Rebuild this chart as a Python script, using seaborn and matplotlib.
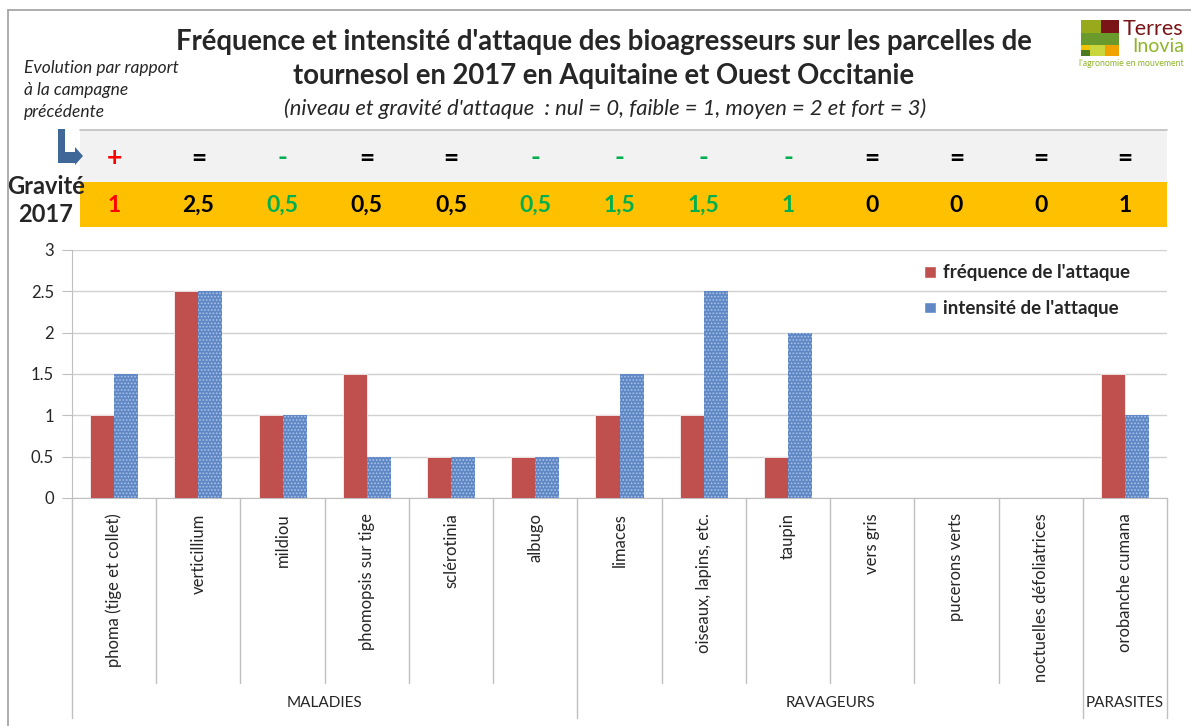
import pandas as pd
import matplotlib.pyplot as plt
import matplotlib.patches as mpatches
from matplotlib.transforms import blended_transform_factory
import seaborn as sns

# Données
bioagresseurs = ["phoma (tige et collet)", "verticillium", "mildiou", "phomopsis sur tige",
                 "sclérotinia", "albugo", "limaces", "oiseaux, lapins, etc.", "taupin",
                 "vers gris", "pucerons verts", "noctuelles défoliatrices", "orobanche cumana"]
frequence = [1, 2.5, 1, 1.5, 0.5, 0.5, 1, 1, 0.5, 0, 0, 0, 1.5]
intensite = [1.5, 2.5, 1, 0.5, 0.5, 0.5, 1.5, 2.5, 2, 0, 0, 0, 1]
evolution = ["+", "=", "-", "=", "=", "-", "-", "-", "-", "=", "=", "=", "="]
gravite = ["1", "2,5", "0,5", "0,5", "0,5", "0,5", "1,5", "1,5", "1", "0", "0", "0", "1"]
groupes = ["MALADIES", "RAVAGEURS", "PARASITES"]
taille_groupes = [6, 6, 1]

couleur_signe = {"+": "#ff0000", "=": "#000000", "-": "#00b050"}
couleur_gravite = ["#ff0000", "#000000", "#00b050", "#000000", "#000000", "#00b050", "#00b050",
                   "#00b050", "#00b050", "#000000", "#000000", "#000000", "#000000"]

W, H = 1191, 726


def px(x, y):
    # pixels -> fraction de figure
    return x / W, 1 - y / H


df = pd.DataFrame({
    "bioagresseur": bioagresseurs * 2,
    "valeur": frequence + intensite,
    "serie": ["fréquence de l'attaque"] * len(bioagresseurs) + ["intensité de l'attaque"] * len(bioagresseurs),
})

sns.set_style("white")
plt.rcParams["font.family"] = ["Lato", "DejaVu Sans"]
plt.rcParams["hatch.linewidth"] = 0.8

fig = plt.figure(figsize=(W / 100, H / 100), dpi=100)
ax = fig.add_axes([72 / W, 1 - 498 / H, (1167 - 72) / W, (498 - 250) / H])

sns.barplot(data=df, x="bioagresseur", y="valeur", hue="serie", saturation=1,
            palette=["#c0504d", "#5f87c4"], width=0.57, gap=0, ax=ax, zorder=3)

for p in ax.containers[0]:
    p.set_edgecolor("white")
    p.set_linewidth(0.5)
for p in ax.containers[1]:
    p.set_hatch(".....")
    p.set_edgecolor("#a9c3ec")
    p.set_linewidth(0)

ax.set_xlim(-0.5, 12.5)
ax.set_ylim(0, 3)
ax.set_yticks([0, 0.5, 1, 1.5, 2, 2.5, 3])
ax.set_yticklabels(["0", "0.5", "1", "1.5", "2", "2.5", "3"], fontsize=12)
ax.grid(axis="y", color="#d0d0d0", lw=1, zorder=0)
ax.set_axisbelow(True)
for s in ["top", "right"]:
    ax.spines[s].set_visible(False)
for s in ["left", "bottom"]:
    ax.spines[s].set_color("#bfbfbf")
ax.tick_params(axis="y", length=7, color="#bfbfbf", left=True, pad=6)
ax.set_xticks(range(len(bioagresseurs)))
ax.set_xticklabels(bioagresseurs, rotation=90, fontsize=12)
ax.tick_params(axis="x", length=0, pad=11)
ax.set_xlabel("")
ax.set_ylabel("")

leg = ax.legend(loc="upper left", bbox_to_anchor=(0.763, 1.01), frameon=False,
                handlelength=0.6, handleheight=0.6, handletextpad=0.4, labelspacing=1.0,
                prop={"weight": "bold", "size": 13.5})

# séparateurs de catégories et de groupes sous l'axe
tr = blended_transform_factory(ax.transData, ax.transAxes)
bornes_groupes = [-0.5]
for n in taille_groupes:
    bornes_groupes.append(bornes_groupes[-1] + n)
for i in range(len(bioagresseurs) + 1):
    b = i - 0.5
    bas = -0.887 if b in bornes_groupes else -0.746
    ax.plot([b, b], [0, bas], transform=tr, color="#bfbfbf", lw=1, clip_on=False)
for g, a, b in zip(groupes, bornes_groupes[:-1], bornes_groupes[1:]):
    ax.text((a + b) / 2, -0.827, g, transform=tr, ha="center", va="center", fontsize=11)

# tableau du haut (évolution et gravité)
trf = blended_transform_factory(ax.transData, fig.transFigure)
x0, _ = px(80, 0)
x1, _ = px(1167, 0)
fig.add_artist(mpatches.Rectangle(px(80, 182), x1 - x0, 52 / H, transform=fig.transFigure,
                                  facecolor="#f2f2f2", edgecolor="none", zorder=0))
fig.add_artist(mpatches.Rectangle(px(80, 227), x1 - x0, 45 / H, transform=fig.transFigure,
                                  facecolor="#ffc000", edgecolor="none", zorder=0))
fig.add_artist(plt.Line2D([x0, x1], [1 - 130 / H] * 2, transform=fig.transFigure,
                          color="#bfbfbf", lw=1.2))
for i, (s, g, c) in enumerate(zip(evolution, gravite, couleur_gravite)):
    fig.text(i, 1 - 158 / H, s, transform=trf, ha="center", va="center",
             fontsize=19, fontweight="bold", color=couleur_signe[s], zorder=5)
    fig.text(i, 1 - 205 / H, g, transform=trf, ha="center", va="center",
             fontsize=16.5, fontweight="bold", color=c, zorder=5)

fig.text(*px(46, 187), "Gravité", ha="center", va="center", fontsize=17, fontweight="bold")
fig.text(*px(46, 215), "2017", ha="center", va="center", fontsize=17, fontweight="bold")

# flèche bleue en L
bleu = "#3f6797"
fig.add_artist(mpatches.Polygon([px(58, 129), px(65, 129), px(65, 152), px(75, 152), px(75, 147),
                                 px(83, 156), px(75, 165), px(75, 163), px(58, 163)],
                                closed=True, transform=fig.transFigure, facecolor=bleu, edgecolor="none"))

# titres
fig.text(*px(604, 42), "Fréquence et intensité d'attaque des bioagresseurs sur les parcelles de",
         ha="center", va="center", fontsize=19.8, fontweight="bold")
fig.text(*px(604, 76), "tournesol en 2017 en Aquitaine et Ouest Occitanie",
         ha="center", va="center", fontsize=19.8, fontweight="bold")
fig.text(*px(605, 109), "(niveau et gravité d'attaque  : nul = 0, faible = 1, moyen = 2 et fort = 3)",
         ha="center", va="center", fontsize=15.8, style="italic")
fig.text(*px(24, 68), "Evolution par rapport", ha="left", va="center", fontsize=12.5, style="italic")
fig.text(*px(24, 90), "à la campagne", ha="left", va="center", fontsize=12.5, style="italic")
fig.text(*px(24, 112), "précédente", ha="left", va="center", fontsize=12.5, style="italic")

# logo Terres Inovia (simplifié)
for (xa, ya, xb, yb, col) in [(1081, 20, 1101, 33, "#99a91c"), (1101, 20, 1119, 33, "#7b1416"),
                              (1081, 33, 1119, 45, "#6b9a2c"), (1081, 45, 1090, 50, "#f2c400"),
                              (1081, 50, 1090, 56, "#4d7a1e"), (1090, 45, 1105, 56, "#c9d63e"),
                              (1105, 45, 1119, 56, "#f0a200")]:
    fig.add_artist(mpatches.Rectangle(px(xa, yb), (xb - xa) / W, (yb - ya) / H,
                                      transform=fig.transFigure, facecolor=col, edgecolor="none"))
fig.text(*px(1123, 29), "Terres", ha="left", va="center", fontsize=15.5, color="#7b1416")
fig.text(*px(1132, 47), "Inovia", ha="left", va="center", fontsize=14, color="#8db528")
fig.text(*px(1079, 63), "l'agronomie en mouvement", ha="left", va="center", fontsize=6.3, color="#8db528")

# cadre
fig.add_artist(plt.Line2D([px(8, 0)[0], 1], [1 - 10 / H] * 2, transform=fig.transFigure, color="#a0a0a0", lw=1.2))
fig.add_artist(plt.Line2D([px(8, 0)[0]] * 2, [1 - 10 / H, 0], transform=fig.transFigure, color="#a0a0a0", lw=1.2))

fig.savefig("out.png", dpi=100)
